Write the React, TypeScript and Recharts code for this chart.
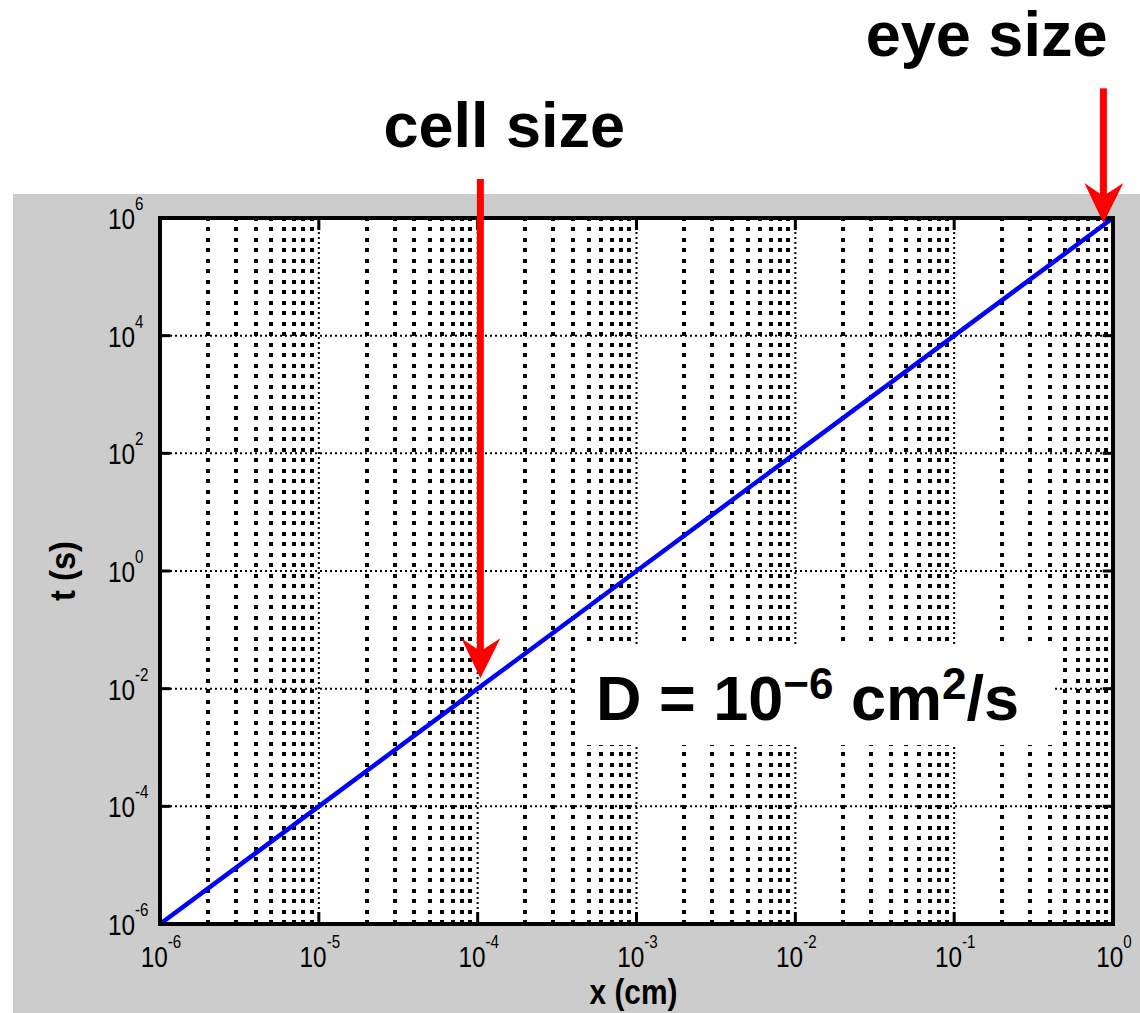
import React from 'react';
import { LineChart, Line, XAxis, YAxis, ReferenceLine, ReferenceArea, ReferenceDot } from 'recharts';

// ---- data ----
const xValues = [1e-6, 1e-5, 1e-4, 1e-3, 1e-2, 1e-1, 1];
const tValues = [1e-6, 1e-4, 1e-2, 1, 1e2, 1e4, 1e6];

const xTicks = [1e-6, 1e-5, 1e-4, 1e-3, 1e-2, 1e-1, 1];
const xTickExponents = ['-6', '-5', '-4', '-3', '-2', '-1', '0'];
const yTicks = [1e-6, 1e-4, 1e-2, 1, 1e2, 1e4, 1e6];
const yTickExponents = ['-6', '-4', '-2', '0', '2', '4', '6'];

const minorDecades = [1e-6, 1e-5, 1e-4, 1e-3, 1e-2, 1e-1];
const minorMultipliers = [2, 3, 4, 5, 6, 7, 8, 9];

const arrowLabels = ['cell size', 'eye size'];
const arrowX = [1.04e-4, 0.87];
const arrowTipT = [1.5e-2, 8.2e5];
const arrowTopT = [4.6e6, 1.6e8];
const arrowTextX = [1.47e-4, 0.16];
const arrowTextT = [1.6e7, 5.7e8];

const diffusionBox = { x1: 4.1e-4, x2: 0.43, y1: 1.1e-3, y2: 0.0552 };

const data = xValues.map((x, i) => ({ x, t: tValues[i] }));
const minorGrid = minorDecades.flatMap((d) => minorMultipliers.map((m) => d * m));

const TICK_FONT = "'Liberation Sans', Arial, Helvetica, sans-serif";
const BOLD_FONT = "'Liberation Sans', Arial, Helvetica, sans-serif";

const XTick = (props: any) => {
  const { x, y, payload } = props;
  const i = xTicks.indexOf(payload.value);
  return (
    <text
      transform={`translate(${x + 1},${y + 43}) scale(0.84,1)`}
      x={0}
      y={0}
      textAnchor="middle"
      fontFamily={TICK_FONT}
      fontSize={29}
      fill="#000"
    >
      <tspan>10</tspan>
      <tspan dy={-19} fontSize={18}>{xTickExponents[i]}</tspan>
    </text>
  );
};

const YTick = (props: any) => {
  const { x, y, payload } = props;
  const i = yTicks.indexOf(payload.value);
  return (
    <text
      transform={`translate(${x - 52},${y + 11}) scale(0.84,1)`}
      x={0}
      y={0}
      textAnchor="start"
      fontFamily={TICK_FONT}
      fontSize={29}
      fill="#000"
    >
      <tspan>10</tspan>
      <tspan dy={-19} fontSize={18}>{yTickExponents[i]}</tspan>
    </text>
  );
};

const ArrowHead = (props: any) => {
  const { cx, cy } = props;
  if (cx == null || cy == null) return null;
  return (
    <polygon
      points={`${cx},${cy} ${cx - 19},${cy - 40} ${cx},${cy - 27} ${cx + 20},${cy - 40}`}
      fill="#ff0000"
      stroke="none"
    />
  );
};

const makeTextShape = (label: string) => (props: any) => {
  const { cx, cy } = props;
  if (cx == null || cy == null) return null;
  return (
    <text x={cx} y={cy} textAnchor="middle" fontFamily={BOLD_FONT} fontWeight="bold" fontSize={63} fill="#000">
      {label}
    </text>
  );
};

const DiffusionLabel = (props: any) => {
  const vb = props.viewBox || {};
  return (
    <text x={vb.x + 21} y={vb.y + 75} fontFamily={BOLD_FONT} fontWeight="bold" fontSize={63} fill="#000">
      <tspan>D = 10</tspan>
      <tspan dy={-21} fontSize={44}>{'\u2212'}6</tspan>
      <tspan dy={21}> cm</tspan>
      <tspan dy={-21} fontSize={44}>2</tspan>
      <tspan dy={21}>/s</tspan>
    </text>
  );
};

const XLabel = (props: any) => {
  const vb = props.viewBox || {};
  return (
    <text
      x={vb.x + vb.width / 2 - 3}
      y={1004}
      textAnchor="middle"
      fontFamily={BOLD_FONT}
      fontWeight="bold"
      fontSize={35}
      textLength={88}
      lengthAdjust="spacingAndGlyphs"
      fill="#000"
    >
      x (cm)
    </text>
  );
};

const YLabel = (props: any) => {
  const vb = props.viewBox || {};
  const cy = vb.y + vb.height / 2;
  return (
    <text
      x={62}
      y={cy}
      transform={`rotate(-90, 62, ${cy})`}
      textAnchor="middle"
      dominantBaseline="central"
      fontFamily={BOLD_FONT}
      fontWeight="bold"
      fontSize={35}
      textLength={60}
      lengthAdjust="spacingAndGlyphs"
      fill="#000"
    >
      t (s)
    </text>
  );
};

export default function App() {
  return (
    <div style={{ position: 'absolute', left: 0, top: 0, width: 1140, height: 1013, background: '#ffffff', overflow: 'hidden' }}>
      <div style={{ position: 'absolute', left: 13, top: 194, width: 1127, height: 819, background: '#cccccc' }} />
      <div style={{ position: 'absolute', left: 0, top: 0 }}>
        <LineChart width={1140} height={1013} data={data} margin={{ top: 218, right: 27, left: 0, bottom: 0 }}>
          <XAxis
            dataKey="x"
            type="number"
            scale="log"
            domain={[1e-6, 1]}
            allowDataOverflow
            ticks={xTicks}
            tick={<XTick />}
            tickLine={false}
            axisLine={false}
            tickSize={0}
            tickMargin={0}
            height={89}
            interval={0}
            label={<XLabel />}
          />
          <YAxis
            type="number"
            scale="log"
            domain={[1e-6, 1e6]}
            allowDataOverflow
            ticks={yTicks}
            tick={<YTick />}
            tickLine={false}
            axisLine={false}
            tickSize={0}
            tickMargin={0}
            width={160}
            interval={0}
            label={<YLabel />}
          />
          {/* plot background */}
          <ReferenceArea x1={1e-6} x2={1} y1={1e-6} y2={1e6} fill="#ffffff" fillOpacity={1} stroke="none" ifOverflow="visible" zIndex={-300} />
          {/* vertical minor grid */}
          {minorGrid.map((v) => (
            <ReferenceLine key={'vm' + v} x={v} stroke="#000" strokeWidth={4} strokeDasharray="4 6.5" shapeRendering="crispEdges" ifOverflow="visible" zIndex={-200} />
          ))}
          {/* vertical major grid */}
          {xTicks.slice(1, -1).map((v) => (
            <ReferenceLine key={'vM' + v} x={v} stroke="#000" strokeWidth={2} strokeDasharray="2 3" ifOverflow="visible" zIndex={-200} />
          ))}
          {/* horizontal major grid */}
          {yTicks.slice(1, -1).map((v) => (
            <ReferenceLine key={'h' + v} y={v} stroke="#000" strokeWidth={2} strokeDasharray="2 3" ifOverflow="visible" zIndex={-200} />
          ))}
          {/* inner major ticks on x */}
          {xTicks.slice(1, -1).map((v) => (
            <ReferenceLine key={'txb' + v} segment={[{ x: v, y: 1e-6 }, { x: v, y: 1.6e-6 }]} stroke="#000" strokeWidth={3} ifOverflow="visible" zIndex={-150} />
          ))}
          {xTicks.slice(1, -1).map((v) => (
            <ReferenceLine key={'txt' + v} segment={[{ x: v, y: 1e6 }, { x: v, y: 6.25e5 }]} stroke="#000" strokeWidth={3} ifOverflow="visible" zIndex={-150} />
          ))}
          {/* inner major ticks on y */}
          {yTicks.slice(1, -1).map((v) => (
            <ReferenceLine key={'tyl' + v} segment={[{ x: 1e-6, y: v }, { x: 1.16e-6, y: v }]} stroke="#000" strokeWidth={3} ifOverflow="visible" zIndex={-150} />
          ))}
          {yTicks.slice(1, -1).map((v) => (
            <ReferenceLine key={'tyr' + v} segment={[{ x: 1, y: v }, { x: 0.862, y: v }]} stroke="#000" strokeWidth={3} ifOverflow="visible" zIndex={-150} />
          ))}
          {/* D label box */}
          <ReferenceArea
            x1={diffusionBox.x1}
            x2={diffusionBox.x2}
            y1={diffusionBox.y1}
            y2={diffusionBox.y2}
            fill="#ffffff"
            fillOpacity={1}
            stroke="none"
            ifOverflow="visible"
            zIndex={-100}
            label={<DiffusionLabel />}
          />
          <Line
            dataKey="t"
            stroke="#0000ff"
            strokeWidth={4.5}
            dot={false}
            activeDot={false}
            isAnimationActive={false}
            type="linear"
          />
          {/* frame */}
          <ReferenceArea x1={1e-6} x2={1} y1={1e-6} y2={1e6} fill="none" stroke="#000" strokeWidth={4} ifOverflow="visible" zIndex={900} />
          {/* arrows */}
          {arrowLabels.map((lab, i) => (
            <ReferenceLine
              key={'as' + i}
              segment={[{ x: arrowX[i], y: arrowTopT[i] }, { x: arrowX[i], y: arrowTipT[i] * 1.45 }]}
              stroke="#ff0000"
              strokeWidth={7}
              ifOverflow="visible"
              zIndex={1000}
            />
          ))}
          {arrowLabels.map((lab, i) => (
            <ReferenceDot key={'ah' + i} x={arrowX[i]} y={arrowTipT[i]} ifOverflow="visible" shape={ArrowHead} zIndex={1000} />
          ))}
          {arrowLabels.map((lab, i) => (
            <ReferenceDot key={'at' + i} x={arrowTextX[i]} y={arrowTextT[i]} ifOverflow="visible" shape={makeTextShape(lab)} zIndex={1000} />
          ))}
        </LineChart>
      </div>
    </div>
  );
}
